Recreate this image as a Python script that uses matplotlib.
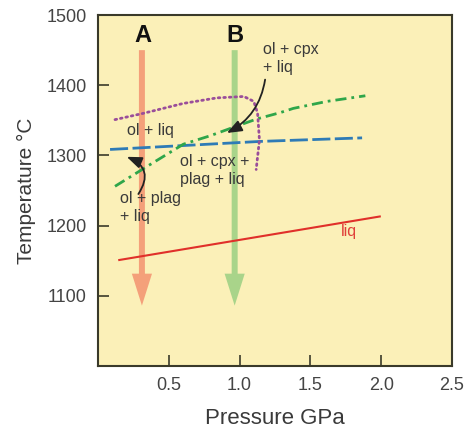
import matplotlib
matplotlib.use("Agg")
import matplotlib.pyplot as plt

plt.rcParams['font.family'] = ['Liberation Sans', 'DejaVu Sans']

# ---- data ----
liq_P = [0.15, 1.99]
liq_T = [1151, 1213]

blue_P = [0.085, 1.15, 1.865]
blue_T = [1308.5, 1320, 1325]

green_P = [0.12, 0.368, 0.603, 0.792, 0.955, 1.122, 1.287, 1.379, 1.617, 1.888]
green_T = [1256, 1287, 1316, 1328, 1340, 1352, 1361, 1367, 1377, 1385]

purple_P = [0.12, 0.32, 0.60, 0.84, 1.03, 1.10, 1.127, 1.14, 1.117]
purple_T = [1351, 1360, 1374, 1382, 1384, 1377, 1360, 1322, 1280]

path_names = ['A', 'B']
path_P = [0.31, 0.965]
path_T_start = [1450, 1450]
path_T_end = [1086, 1086]
path_colors = ['#F4A07A', '#A9D48A']
path_label_T = [1471, 1471]

labels = ['ol + cpx\n+ liq', 'ol + liq', 'ol + cpx +\nplag + liq', 'ol + plag\n+ liq']
label_P = [1.165, 0.203, 0.58, 0.155]
label_T = [1438, 1336, 1279, 1226]

# curved pointer arrows (from, to)
ptr_from_P = [1.18, 0.285]
ptr_from_T = [1408, 1245]
ptr_to_P = [0.91, 0.203]
ptr_to_T = [1332, 1298]
ptr_rad = [-0.25, 0.6]

xticks = [0.5, 1.0, 1.5, 2.0, 2.5]
xticklabels = ['0.5', '1.0', '1.5', '2.0', '2.5']
yticks = [1100, 1200, 1300, 1400, 1500]
yticklabels = ['1100', '1200', '1300', '1400', '1500']

# ---- figure ----
fig = plt.figure(figsize=(4.67, 4.29), dpi=100)
ax = fig.add_axes([0.2099, 0.1469, 0.758, 0.818])
ax.set_facecolor('#FBF0B8')
ax.set_xlim(0, 2.5)
ax.set_ylim(1000, 1500)

text_col = '#3a3a3a'

# vertical cooling-path arrows
for name, p, t0, t1, c, tl in zip(path_names, path_P, path_T_start, path_T_end, path_colors, path_label_T):
    ax.annotate('', xy=(p, t1), xytext=(p, t0),
                arrowprops=dict(arrowstyle='simple,head_length=2.3,head_width=1.45,tail_width=0.43',
                                mutation_scale=10, color=c, lw=0, shrinkA=0, shrinkB=0),
                zorder=1)
    ax.text(p + 0.005, tl, name, ha='center', va='center', fontsize=17,
            fontweight='bold', color='#111111')

# phase boundaries
ax.plot(liq_P, liq_T, color='#E0302A', lw=1.5, zorder=3)
ax.plot(blue_P, blue_T, color='#2E7BB6', lw=2, dashes=(6.5, 1.6), zorder=3)
ax.plot(green_P, green_T, color='#2FA64A', lw=2, dashes=(4, 1.8, 1, 1.8), zorder=3)
ax.plot(purple_P, purple_T, color='#9A4E9A', lw=2, linestyle=(0, (0.6, 1.4)),
        dash_capstyle='round', zorder=3)

# field labels
for s, p, t in zip(labels, label_P, label_T):
    ax.text(p, t, s, ha='left', va='center', fontsize=11.5, color=text_col,
            linespacing=1.25, zorder=4)
ax.text(1.77, 1191, 'liq', ha='center', va='center', fontsize=11.5, color='#E0403A')

# curved pointer arrows
for fp, ft, tp, tt, r in zip(ptr_from_P, ptr_from_T, ptr_to_P, ptr_to_T, ptr_rad):
    ax.annotate('', xy=(tp, tt), xytext=(fp, ft),
                arrowprops=dict(arrowstyle='-|>,head_length=0.9,head_width=0.35',
                                connectionstyle=f'arc3,rad={r}',
                                color='#222222', lw=1.3, shrinkA=0, shrinkB=0),
                zorder=5)

# axes styling
ax.set_xticks(xticks)
ax.set_xticklabels(xticklabels)
ax.set_yticks(yticks)
ax.set_yticklabels(yticklabels)
ax.tick_params(direction='in', length=8, width=1.2, color='#3a3a2a',
               labelsize=13, labelcolor='#444444', pad=8)
for sp in ax.spines.values():
    sp.set_color('#3a3a2a')
    sp.set_linewidth(1.5)

ax.set_xlabel('Pressure GPa', fontsize=16, color=text_col, labelpad=10)
ax.set_ylabel('Temperature °C', fontsize=15, color=text_col, labelpad=8)

fig.savefig('out.png', dpi=100, facecolor='white')
